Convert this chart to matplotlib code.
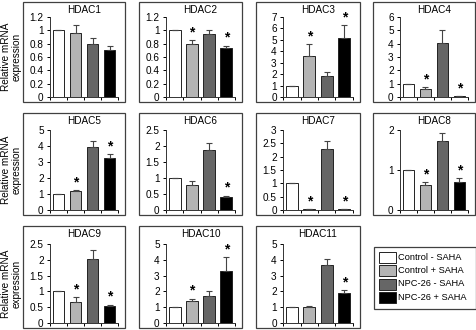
import matplotlib
matplotlib.use("Agg")
import matplotlib.pyplot as plt
from matplotlib.patches import Rectangle

plt.rcParams['font.family'] = ['Liberation Sans', 'DejaVu Sans']

W, H = 477, 330

groups = ["Control - SAHA", "Control + SAHA", "NPC-26 - SAHA", "NPC-26 + SAHA"]
colors = ["#ffffff", "#b4b4b4", "#666666", "#000000"]

genes = ["HDAC1", "HDAC2", "HDAC3", "HDAC4", "HDAC5", "HDAC6",
         "HDAC7", "HDAC8", "HDAC9", "HDAC10", "HDAC11"]

hdac1 = [1.0, 0.96, 0.79, 0.71]
hdac1_err = [0, 0.12, 0.09, 0.05]
hdac2 = [1.0, 0.79, 0.94, 0.74]
hdac2_err = [0, 0.06, 0.07, 0.03]
hdac3 = [1.0, 3.6, 1.8, 5.2]
hdac3_err = [0, 1.0, 0.4, 1.1]
hdac4 = [1.0, 0.58, 4.05, 0.05]
hdac4_err = [0, 0.15, 1.0, 0.02]
hdac5 = [1.0, 1.18, 3.95, 3.25]
hdac5_err = [0, 0.05, 0.35, 0.25]
hdac6 = [1.0, 0.78, 1.87, 0.40]
hdac6_err = [0, 0.13, 0.23, 0.05]
hdac7 = [1.0, 0.02, 2.28, 0.04]
hdac7_err = [0, 0.0, 0.30, 0.0]
hdac8 = [1.0, 0.62, 1.73, 0.69]
hdac8_err = [0, 0.08, 0.20, 0.10]
hdac9 = [1.0, 0.66, 2.02, 0.55]
hdac9_err = [0, 0.15, 0.30, 0.03]
hdac10 = [1.0, 1.38, 1.70, 3.28]
hdac10_err = [0, 0.17, 0.30, 0.90]
hdac11 = [1.0, 1.0, 3.65, 1.90]
hdac11_err = [0, 0.05, 0.40, 0.17]

values = [hdac1, hdac2, hdac3, hdac4, hdac5, hdac6, hdac7, hdac8, hdac9, hdac10, hdac11]
errors = [hdac1_err, hdac2_err, hdac3_err, hdac4_err, hdac5_err, hdac6_err,
          hdac7_err, hdac8_err, hdac9_err, hdac10_err, hdac11_err]
# significance stars per bar
stars = [
    [0, 0, 0, 0], [0, 1, 0, 1], [0, 1, 0, 1], [0, 1, 0, 1],
    [0, 1, 0, 1], [0, 0, 0, 1], [0, 1, 0, 1], [0, 1, 0, 1],
    [0, 1, 0, 1], [0, 1, 0, 1], [0, 0, 0, 1],
]
yticks = [
    ([0, 0.2, 0.4, 0.6, 0.8, 1, 1.2], ["0", "0.2", "0.4", "0.6", "0.8", "1", "1.2"]),
    ([0, 0.2, 0.4, 0.6, 0.8, 1, 1.2], ["0", "0.2", "0.4", "0.6", "0.8", "1", "1.2"]),
    ([0, 1, 2, 3, 4, 5, 6, 7], ["0", "1", "2", "3", "4", "5", "6", "7"]),
    ([0, 1, 2, 3, 4, 5, 6], ["0", "1", "2", "3", "4", "5", "6"]),
    ([0, 1, 2, 3, 4, 5], ["0", "1", "2", "3", "4", "5"]),
    ([0, 0.5, 1, 1.5, 2, 2.5], ["0", "0.5", "1", "1.5", "2", "2.5"]),
    ([0, 0.5, 1, 1.5, 2, 2.5, 3], ["0", "0.5", "1", "1.5", "2", "2.5", "3"]),
    ([0, 1, 2], ["0", "1", "2"]),
    ([0, 0.5, 1, 1.5, 2, 2.5], ["0", "0.5", "1", "1.5", "2", "2.5"]),
    ([0, 1, 2, 3, 4, 5], ["0", "1", "2", "3", "4", "5"]),
    ([0, 1, 2, 3, 4, 5], ["0", "1", "2", "3", "4", "5"]),
]

# layout in pixels
col_box = [(23, 125), (139, 242), (256, 360), (373, 475)]
row_box = [(2, 102), (113, 215), (226, 328)]
row_axis = [(17, 97), (130, 210), (244, 323)]

fig = plt.figure(figsize=(W / 100, H / 100), dpi=100)
FS = 7.2

def fx(x):
    return x / W

def fy(y):
    return 1 - y / H

for i, g in enumerate(genes):
    r, c = divmod(i, 4)
    bl, br = col_box[c]
    bt, bb = row_box[r]
    at, ab = row_axis[r]
    # outer chart border
    fig.patches.append(Rectangle((fx(bl), fy(bb)), fx(br) - fx(bl), fy(bt) - fy(bb),
                                 transform=fig.transFigure, fill=False,
                                 edgecolor="#404040", linewidth=0.9))
    al = bl + 27
    ar = br - 7
    ax = fig.add_axes([fx(al), fy(ab), fx(ar) - fx(al), fy(at) - fy(ab)])
    ax.patch.set_alpha(0)
    xs = [0.5, 1.5, 2.5, 3.5]
    v = values[i]
    e = errors[i]
    ax.bar(xs, v, width=0.7, color=colors, edgecolor="#222222", linewidth=0.7, zorder=2)
    ax.errorbar(xs, v, yerr=[[0] * 4, e], fmt="none", ecolor="#444444",
                elinewidth=0.8, capsize=2.2, capthick=0.8, zorder=3)
    ticks, labels = yticks[i]
    ymax = ticks[-1]
    for k in range(4):
        if stars[i][k]:
            ax.text(xs[k], v[k] + e[k] + ymax * 0.01, "*", ha="center", va="bottom",
                    fontsize=10, fontweight="bold", zorder=4)
    ax.set_xlim(0, 4)
    ax.set_ylim(0, ymax)
    ax.set_yticks(ticks)
    ax.set_yticklabels(labels, fontsize=FS)
    ax.set_xticks([0, 1, 2, 3, 4])
    ax.set_xticklabels([])
    ax.tick_params(axis="y", direction="out", length=2.5, width=0.7, pad=2)
    ax.tick_params(axis="x", direction="out", length=2.5, width=0.7)
    ax.spines["top"].set_visible(False)
    ax.spines["right"].set_visible(False)
    for s in ("left", "bottom"):
        ax.spines[s].set_linewidth(0.7)
        ax.spines[s].set_color("#333333")
    fig.text(fx((al + ar) / 2), fy(bt + 8), g, ha="center", va="center", fontsize=FS)

# row y labels
for r in range(3):
    at, ab = row_axis[r]
    fig.text(fx(11), fy((at + ab) / 2), "Relative mRNA\nexpression", rotation=90,
             ha="center", va="center", fontsize=FS, linespacing=1.1)

# legend
lx0, lx1, ly0, ly1 = 374, 476, 247, 309
fig.patches.append(Rectangle((fx(lx0), fy(ly1)), fx(lx1) - fx(lx0), fy(ly0) - fy(ly1),
                             transform=fig.transFigure, fill=False,
                             edgecolor="#404040", linewidth=0.9))
ycent = [257, 270.5, 284, 297.5]
for k, lab in enumerate(groups):
    yc = ycent[k]
    fig.patches.append(Rectangle((fx(379), fy(yc + 5.5)), fx(396) - fx(379), fy(yc - 5.5) - fy(yc + 5.5),
                                 transform=fig.transFigure, facecolor=colors[k],
                                 edgecolor="#222222", linewidth=0.7))
    fig.text(fx(398), fy(yc), lab, ha="left", va="center", fontsize=6.7)

fig.savefig("out.png", dpi=100)
